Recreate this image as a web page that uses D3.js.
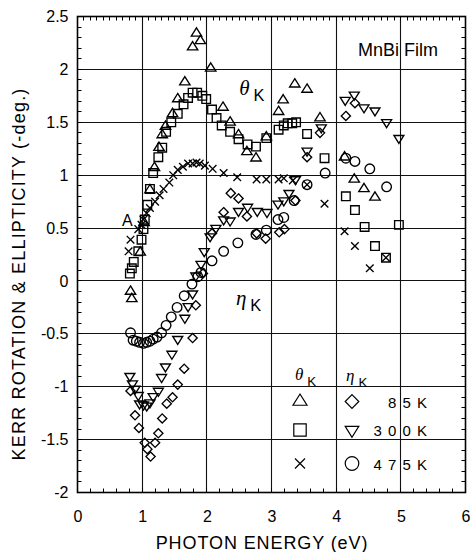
<!DOCTYPE html>
<html>
<head>
<meta charset="utf-8">
<script src="https://cdn.jsdelivr.net/npm/d3@7"></script>
<style>
  body { margin: 0; background: #fff; }
  svg { display: block; }
  text { font-family: "Liberation Sans", Arial, Helvetica, sans-serif; fill: #000; }
</style>
</head>
<body>
<svg id="chart" width="471" height="552"></svg>
<script>
// Axis ticks
const xTicks = [0, 1, 2, 3, 4, 5, 6];
const yTicks = [-2, -1.5, -1, -0.5, 0, 0.5, 1, 1.5, 2, 2.5];
const tempLabels = ["8 5 K", "3 0 0 K", "4 7 5 K"];

// Kerr rotation (theta_K), [photon energy eV, -deg]
const theta85 = [
  [0.82,-0.10],[0.84,-0.17],[0.97,0.27],[1.03,0.55],[1.12,0.86],[1.19,1.07],[1.26,1.26],
  [1.31,1.38],[1.36,1.46],[1.47,1.58],[1.55,1.72],[1.66,1.88],[1.78,2.21],[1.84,2.34],
  [1.90,2.27],[2.06,2.01],[2.25,1.64],[2.36,1.50],[2.49,1.38],[2.62,1.22],[2.76,1.16],
  [2.92,1.36],[3.11,1.60],[3.18,1.71],[3.36,1.86],[3.55,1.81],[3.75,1.54],[4.13,1.17],
  [4.28,0.96],[4.43,0.87],[4.60,0.79]
];
const theta300 = [
  [0.81,0.07],[0.84,0.12],[0.87,0.18],[0.94,0.28],[0.99,0.39],[1.02,0.49],[1.04,0.58],
  [1.08,0.72],[1.12,0.87],[1.17,1.02],[1.25,1.17],[1.31,1.26],[1.37,1.41],[1.45,1.50],
  [1.55,1.58],[1.64,1.67],[1.71,1.73],[1.78,1.78],[1.85,1.78],[1.93,1.75],[1.99,1.72],
  [2.08,1.62],[2.15,1.54],[2.23,1.47],[2.36,1.41],[2.49,1.34],[2.63,1.29],[2.76,1.27],
  [2.92,1.35],[3.11,1.43],[3.19,1.47],[3.25,1.49],[3.32,1.49],[3.38,1.50],[3.55,1.39],
  [3.82,1.16],[4.15,0.80],[4.29,0.67],[4.44,0.51],[4.60,0.33],[4.77,0.22],[4.97,0.53]
];
const theta475 = [
  [0.79,0.28],[0.82,0.39],[0.94,0.49],[0.99,0.53],[1.02,0.58],[1.07,0.64],[1.12,0.69],
  [1.20,0.75],[1.27,0.81],[1.33,0.87],[1.42,0.93],[1.48,1.00],[1.55,1.05],[1.63,1.08],
  [1.71,1.11],[1.78,1.11],[1.84,1.12],[1.89,1.11],[1.97,1.09],[2.09,1.06],[2.26,1.02],
  [2.47,0.98],[2.77,0.96],[2.92,0.96],[3.11,0.96],[3.19,0.97],[3.33,0.95],[3.55,0.91],
  [3.82,0.73],[4.13,0.47],[4.29,0.33],[4.52,0.12],[4.77,0.22]
];

// Kerr ellipticity (eta_K)
const eta85 = [
  [0.82,-1.04],[0.89,-1.27],[0.95,-1.39],[1.04,-1.53],[1.08,-1.59],[1.13,-1.66],[1.20,-1.53],
  [1.25,-1.44],[1.31,-1.30],[1.38,-1.16],[1.47,-1.10],[1.55,-0.98],[1.65,-0.83],[1.78,-0.54],
  [1.83,-0.23],[1.94,0.07],[2.08,0.45],[2.26,0.65],[2.37,0.83],[2.49,0.78],[2.62,0.61],
  [2.77,0.45],[2.91,0.40],[3.12,0.46],[3.20,0.49],[3.37,0.76],[3.55,1.17],[3.75,1.40],
  [4.15,1.56],[4.29,1.68]
];
const eta300 = [
  [0.81,-0.90],[0.85,-0.97],[0.89,-1.02],[0.94,-1.08],[0.96,-1.16],[1.02,-1.17],[1.07,-1.18],
  [1.12,-1.15],[1.17,-1.09],[1.25,-1.04],[1.30,-0.91],[1.36,-0.81],[1.46,-0.69],[1.55,-0.55],
  [1.66,-0.35],[1.71,-0.24],[1.78,-0.12],[1.83,0.05],[1.91,0.16],[1.96,0.28],[2.05,0.42],
  [2.14,0.50],[2.26,0.58],[2.36,0.57],[2.49,0.66],[2.63,0.70],[2.78,0.66],[2.93,0.65],
  [3.10,0.73],[3.19,0.76],[3.27,0.83],[3.37,0.96],[3.55,1.23],[3.77,1.45],[4.14,1.71],
  [4.28,1.76],[4.43,1.64],[4.60,1.61],[4.78,1.50],[4.97,1.35]
];
const eta475 = [
  [0.82,-0.49],[0.86,-0.56],[0.91,-0.57],[0.96,-0.58],[1.02,-0.59],[1.07,-0.58],[1.12,-0.57],
  [1.17,-0.55],[1.23,-0.53],[1.30,-0.49],[1.37,-0.42],[1.45,-0.34],[1.54,-0.25],[1.65,-0.14],
  [1.77,-0.03],[1.86,0.04],[1.91,0.08],[2.08,0.19],[2.26,0.28],[2.48,0.36],[2.76,0.44],
  [2.92,0.48],[3.10,0.58],[3.19,0.60],[3.35,0.76],[3.55,0.91],[3.83,1.02],[4.15,1.16],
  [4.29,1.13],[4.52,1.06],[4.78,0.89]
];

// Custom marker shapes; the symbol "size" is the half-width in pixels.
const shapes = {
  triUp: { draw(c, r) { const h = r * 1.6; c.moveTo(0, -h * 2 / 3); c.lineTo(r, h / 3); c.lineTo(-r, h / 3); c.closePath(); } },
  triDown: { draw(c, r) { const h = r * 1.6; c.moveTo(0, h * 2 / 3); c.lineTo(r, -h / 3); c.lineTo(-r, -h / 3); c.closePath(); } },
  square: { draw(c, r) { c.rect(-r, -r, 2 * r, 2 * r); } },
  diamond: { draw(c, r) { c.moveTo(0, -r); c.lineTo(r, 0); c.lineTo(0, r); c.lineTo(-r, 0); c.closePath(); } },
  cross: { draw(c, r) { c.moveTo(-r, -r); c.lineTo(r, r); c.moveTo(r, -r); c.lineTo(-r, r); } },
  circle: { draw(c, r) { c.moveTo(r, 0); c.arc(0, 0, r, 0, 2 * Math.PI); } }
};

const series = [
  { data: theta85, shape: "triUp", r: 5.2 },
  { data: theta300, shape: "square", r: 4.3 },
  { data: theta475, shape: "cross", r: 3.8 },
  { data: eta85, shape: "diamond", r: 4.6 },
  { data: eta300, shape: "triDown", r: 5.0 },
  { data: eta475, shape: "circle", r: 4.8 }
];

const W = 471, H = 552;
const m = { left: 77.5, right: 5.5, top: 16.5, bottom: 59.5 };
const svg = d3.select("#chart");

const x = d3.scaleLinear().domain([0, 6]).range([m.left, W - m.right]);
const y = d3.scaleLinear().domain([-2, 2.5]).range([H - m.bottom, m.top]);
const px = v => Math.round(v - 0.5) + 0.5;

const plot = svg.append("g");

// grid
plot.append("g").selectAll("line").data(xTicks.slice(1, -1)).join("line")
  .attr("x1", d => px(x(d))).attr("x2", d => px(x(d)))
  .attr("y1", y(-2)).attr("y2", y(2.5))
  .attr("stroke", "#111").attr("stroke-width", 1.1);
plot.append("g").selectAll("line").data(yTicks.slice(1, -1)).join("line")
  .attr("y1", d => px(y(d))).attr("y2", d => px(y(d)))
  .attr("x1", x(0)).attr("x2", x(6))
  .attr("stroke", "#111").attr("stroke-width", 1.1);

// minor ticks, pointing inward
const tk = 4;
const ticks = plot.append("g").attr("stroke", "#000").attr("stroke-width", 1);
const xMinorBottom = d3.range(0.2, 6, 0.2);
const xMinorTop = d3.range(0.1, 6, 0.1);
const yMinor = d3.range(-1.9, 2.5, 0.1);
ticks.selectAll(".xb").data(xMinorBottom).join("line").attr("class", "xb")
  .attr("x1", d => px(x(d))).attr("x2", d => px(x(d))).attr("y1", y(-2)).attr("y2", y(-2) - tk);
ticks.selectAll(".xt").data(xMinorTop).join("line").attr("class", "xt")
  .attr("x1", d => px(x(d))).attr("x2", d => px(x(d))).attr("y1", y(2.5)).attr("y2", y(2.5) + tk);
ticks.selectAll(".yl").data(yMinor).join("line").attr("class", "yl")
  .attr("y1", d => px(y(d))).attr("y2", d => px(y(d))).attr("x1", x(0)).attr("x2", x(0) + tk);
ticks.selectAll(".yr").data(yMinor).join("line").attr("class", "yr")
  .attr("y1", d => px(y(d))).attr("y2", d => px(y(d))).attr("x1", x(6)).attr("x2", x(6) - tk);

// frame
plot.append("rect")
  .attr("x", x(0)).attr("y", y(2.5))
  .attr("width", x(6) - x(0)).attr("height", y(-2) - y(2.5))
  .attr("fill", "none").attr("stroke", "#000").attr("stroke-width", 1.6);

// axes (labels only)
const xAxis = svg.append("g").attr("transform", `translate(0,${y(-2)})`)
  .call(d3.axisBottom(x).tickValues(xTicks).tickSize(0).tickPadding(18).tickFormat(d => String(d)));
const yAxis = svg.append("g").attr("transform", `translate(${x(0)},0)`)
  .call(d3.axisLeft(y).tickValues(yTicks).tickSize(0).tickPadding(9).tickFormat(d => String(d)));
[xAxis, yAxis].forEach(a => {
  a.select(".domain").remove();
  a.selectAll("text").attr("font-size", 16).attr("font-family", "Liberation Sans, Arial, sans-serif").attr("fill", "#000");
});

// axis titles
svg.append("text")
  .attr("x", 262).attr("y", 549)
  .attr("text-anchor", "middle").attr("font-size", 18).attr("letter-spacing", 0.9)
  .text("PHOTON ENERGY (eV)");
svg.append("text")
  .attr("transform", "translate(24.5,274) rotate(-90)")
  .attr("text-anchor", "middle").attr("font-size", 18).attr("letter-spacing", 1.2)
  .text("KERR ROTATION & ELLIPTICITY (-deg.)");

// markers
const sym = d3.symbol();
const marks = svg.append("g").attr("fill", "none").attr("stroke", "#000").attr("stroke-width", 1.35);
series.forEach(s => {
  marks.append("g").selectAll("path").data(s.data).join("path")
    .attr("transform", d => `translate(${x(d[0])},${y(d[1])})`)
    .attr("d", sym.type(shapes[s.shape]).size(s.r)());
});

// annotations
function greekLabel(gx, gy, ch, fs) {
  const t = svg.append("text").attr("x", gx).attr("y", gy);
  t.append("tspan").attr("font-family", "Liberation Serif, DejaVu Serif, serif")
    .attr("font-style", "italic").attr("font-size", fs).text(ch);
  t.append("tspan").attr("dx", 4).attr("dy", 6).attr("font-size", fs * 0.78).text("K");
  return t;
}
greekLabel(x(2.5), y(1.76), "θ", 21);
greekLabel(x(2.45), y(-0.23), "η", 21);
svg.append("text").attr("x", x(0.77)).attr("y", y(0.52))
  .attr("text-anchor", "middle").attr("font-size", 16).text("A");
svg.append("text").attr("x", 438).attr("y", 56)
  .attr("text-anchor", "end").attr("font-size", 18).text("MnBi Film");

// legend
const legX1 = 300, legX2 = 352, legRows = [401.5, 430, 463.5];
greekLabel(legX1 - 5, 380, "θ", 17);
greekLabel(legX2 - 6, 381, "η", 17);
const legend = [
  ["triUp", "diamond"],
  ["square", "triDown"],
  ["cross", "circle"]
];
const legendR = { triUp: 7, diamond: 6.8, square: 6.2, triDown: 6.8, cross: 5, circle: 6.8 };
const leg = svg.append("g").attr("fill", "none").attr("stroke", "#000").attr("stroke-width", 1.2);
legend.forEach((row, i) => {
  [legX1, legX2].forEach((lx, j) => {
    leg.append("path")
      .attr("transform", `translate(${lx},${legRows[i]})`)
      .attr("d", sym.type(shapes[row[j]]).size(legendR[row[j]])());
  });
  svg.append("text").attr("x", 428).attr("y", legRows[i] + 6)
    .attr("text-anchor", "end").attr("font-size", 15).attr("letter-spacing", 1)
    .text(tempLabels[i]);
});
</script>
</body>
</html>
